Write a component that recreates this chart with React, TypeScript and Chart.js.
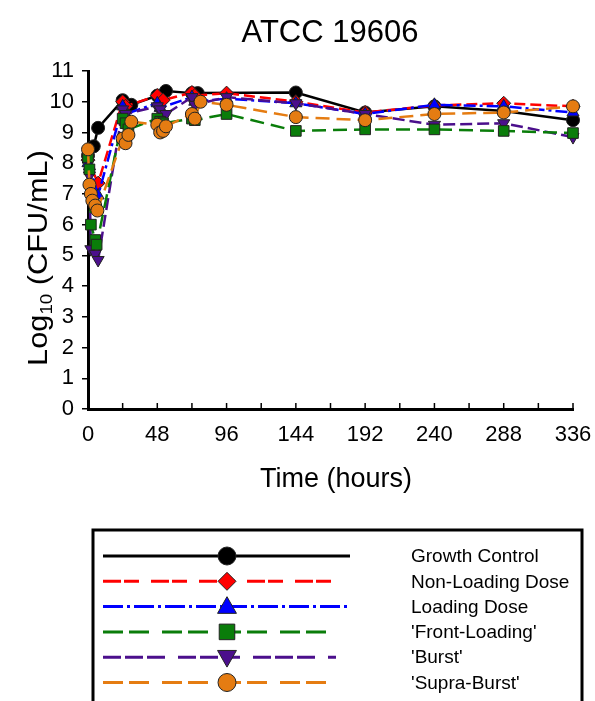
import React, { useEffect, useRef } from "react";
import { Chart, registerables } from "chart.js";
Chart.register(...registerables);

const FONT = "'Liberation Sans', Arial, sans-serif";

const chartTitle = "ATCC 19606";
const xTitle = "Time (hours)";
const seriesNames = ["Growth Control", "Non-Loading Dose", "Loading Dose", "'Front-Loading'", "'Burst'", "'Supra-Burst'"];

const gcTimes = [0, 4, 7, 24, 30, 48, 54, 72, 76, 144, 192, 240, 288, 336];
const gcValues = [8.25, 8.55, 9.15, 10.05, 9.9, 10.2, 10.35, 10.28, 10.28, 10.3, 9.65, 9.85, 9.7, 9.4];

const nldTimes = [0, 7, 24, 26, 48, 52, 72, 74, 96, 144, 192, 240, 288, 336];
const nldValues = [8.1, 7.35, 10.0, 9.85, 10.2, 10.05, 10.3, 10.2, 10.28, 10.0, 9.65, 9.88, 9.95, 9.85];

const ldTimes = [0, 1, 7, 24, 26, 48, 50, 72, 74, 96, 144, 192, 240, 288, 336];
const ldValues = [8.0, 7.9, 6.95, 9.85, 9.6, 9.95, 9.8, 10.15, 10.0, 10.1, 9.95, 9.6, 9.9, 9.85, 9.65];

const flTimes = [0, 1, 2, 5, 6, 24, 26, 28, 48, 50, 52, 72, 74, 96, 144, 192, 240, 288, 336];
const flValues = [8.2, 7.8, 6.0, 5.5, 5.35, 9.45, 9.3, 9.1, 9.45, 9.35, 9.3, 9.45, 9.4, 9.6, 9.05, 9.1, 9.1, 9.05, 8.98];

const burstTimes = [0, 1, 2, 5, 7, 24, 26, 48, 50, 54, 72, 74, 96, 144, 192, 240, 288, 336];
const burstValues = [8.1, 7.6, 5.2, 5.05, 4.85, 9.75, 9.6, 9.85, 9.75, 9.6, 10.15, 9.9, 10.15, 9.95, 9.6, 9.25, 9.3, 8.85];

const supraTimes = [0, 1, 2, 3, 5, 6.5, 24, 26, 28, 30, 48, 50, 52, 54, 72, 74, 78, 96, 144, 192, 240, 288, 336];
const supraValues = [8.45, 7.3, 7.0, 6.78, 6.62, 6.46, 8.8, 8.65, 8.92, 9.35, 9.25, 9.0, 9.05, 9.2, 9.6, 9.45, 10.0, 9.9, 9.5, 9.4, 9.6, 9.65, 9.85];

const xTickStep = 24;
const xLabelStep = 48;

type Style = { color: string; dash: number[]; legendDash: number[]; shape: string; rot: number; radius: number; lineEnd: number };
const styles: Style[] = [
  { color: "#000000", dash: [], legendDash: [], shape: "circle", rot: 0, radius: 6.5, lineEnd: 350 },
  { color: "#ff0000", dash: [11, 5], legendDash: [18, 3, 15, 12], shape: "rectRot", rot: 0, radius: 7, lineEnd: 336 },
  { color: "#0000ff", dash: [12, 4, 3, 4], legendDash: [20, 4, 3, 4], shape: "triangle", rot: 0, radius: 7, lineEnd: 350 },
  { color: "#0a7d0a", dash: [14, 7], legendDash: [20, 6, 20, 13], shape: "rect", rot: 0, radius: 7.5, lineEnd: 336 },
  { color: "#4b0f8c", dash: [12, 5], legendDash: [18, 4, 18, 4, 18, 13], shape: "triangle", rot: 180, radius: 7, lineEnd: 336 },
  { color: "#e57c12", dash: [14, 7], legendDash: [20, 6, 20, 13], shape: "circle", rot: 0, radius: 6.5, lineEnd: 336 },
];

const allTimes = [gcTimes, nldTimes, ldTimes, flTimes, burstTimes, supraTimes];
const allValues = [gcValues, nldValues, ldValues, flValues, burstValues, supraValues];
const drawOrder = [5, 4, 3, 1, 2, 0];

function drawMarker(ctx: CanvasRenderingContext2D, shape: string, rot: number, x: number, y: number, r: number, fill: string) {
  ctx.save();
  ctx.translate(x, y);
  ctx.rotate((rot * Math.PI) / 180);
  ctx.beginPath();
  if (shape === "circle") {
    ctx.arc(0, 0, r, 0, Math.PI * 2);
  } else if (shape === "rectRot") {
    ctx.moveTo(0, -r); ctx.lineTo(r, 0); ctx.lineTo(0, r); ctx.lineTo(-r, 0); ctx.closePath();
  } else if (shape === "rect") {
    const s = r * Math.SQRT1_2;
    ctx.rect(-s, -s, 2 * s, 2 * s);
  } else if (shape === "triangle") {
    ctx.moveTo(0, -r * 1.1);
    ctx.lineTo(r * 1.05, r * 0.75);
    ctx.lineTo(-r * 1.05, r * 0.75);
    ctx.closePath();
  }
  ctx.fillStyle = fill;
  ctx.fill();
  ctx.setLineDash([]);
  ctx.lineWidth = 1;
  ctx.strokeStyle = "#222";
  ctx.stroke();
  ctx.restore();
}

const decorPlugin = {
  id: "decor",
  afterDraw(chart: any) {
    const ctx: CanvasRenderingContext2D = chart.ctx;
    const area = chart.chartArea;
    const xs = chart.scales.x;
    ctx.save();
    ctx.fillStyle = "#000";
    ctx.textAlign = "center";
    ctx.textBaseline = "alphabetic";
    ctx.font = `31px ${FONT}`;
    ctx.fillText(chartTitle, 330, 42);

    // inward x ticks
    ctx.strokeStyle = "#000";
    ctx.lineWidth = 1.5;
    for (let t = 0; t <= 336; t += xTickStep) {
      const px = xs.getPixelForValue(t);
      ctx.beginPath();
      ctx.moveTo(px, area.bottom);
      ctx.lineTo(px, area.bottom - 6);
      ctx.stroke();
    }

    // x title
    ctx.font = `27px ${FONT}`;
    ctx.fillText(xTitle, 336, 487);

    // y title with subscript
    ctx.save();
    ctx.translate(47, 258);
    ctx.rotate(-Math.PI / 2);
    ctx.scale(1.1, 1);
    ctx.textAlign = "left";
    const big = `28px ${FONT}`;
    const small = `17px ${FONT}`;
    ctx.font = big;
    const w1 = ctx.measureText("Log").width;
    const w3 = ctx.measureText(" (CFU/mL)").width;
    ctx.font = small;
    const w2 = ctx.measureText("10").width;
    let x0 = -(w1 + w2 + w3) / 2;
    ctx.font = big;
    ctx.fillText("Log", x0, 0);
    x0 += w1;
    ctx.font = small;
    ctx.fillText("10", x0, 5);
    x0 += w2;
    ctx.font = big;
    ctx.fillText(" (CFU/mL)", x0, 0);
    ctx.restore();

    // legend box
    ctx.lineWidth = 3;
    ctx.strokeStyle = "#000";
    ctx.setLineDash([]);
    ctx.strokeRect(93, 530, 489, 190);
    ctx.font = `19px ${FONT}`;
    ctx.textAlign = "left";
    ctx.textBaseline = "middle";
    for (let i = 0; i < seriesNames.length; i++) {
      const st = styles[i];
      const y = 556 + i * 25.3;
      ctx.beginPath();
      ctx.setLineDash(st.legendDash);
      ctx.lineWidth = 3;
      ctx.strokeStyle = st.color;
      ctx.moveTo(103, y);
      ctx.lineTo(st.lineEnd, y);
      ctx.stroke();
      drawMarker(ctx, st.shape, st.rot, 227, y, st.shape === "rect" ? 11 : 9, st.color);
      ctx.fillStyle = "#000";
      ctx.fillText(seriesNames[i], 411, y + 1);
    }
    ctx.restore();
  },
};

export default function App() {
  const ref = useRef<HTMLCanvasElement>(null);
  useEffect(() => {
    if (!ref.current) return;
    const datasets = seriesNames.map((name, i) => {
      const st = styles[i];
      return {
        label: name,
        data: allTimes[i].map((t, j) => ({ x: t, y: allValues[i][j] })),
        borderColor: st.color,
        backgroundColor: st.color,
        borderWidth: 2.5,
        borderDash: st.dash,
        pointStyle: st.shape,
        pointRotation: st.rot,
        pointRadius: st.radius,
        pointBorderColor: "#222",
        pointBorderWidth: 1,
        pointBackgroundColor: st.color,
        tension: 0,
        clip: false,
        order: drawOrder[i],
      };
    });
    const chart = new Chart(ref.current, {
      type: "line",
      data: { datasets: datasets as any },
      options: {
        animation: false,
        responsive: false,
        devicePixelRatio: 1,
        layout: { autoPadding: false, padding: { top: 71, right: 22, left: 0, bottom: 0 } },
        plugins: { legend: { display: false }, tooltip: { enabled: false }, title: { display: false } },
        scales: {
          x: {
            type: "linear",
            min: 0,
            max: 336,
            ticks: {
              stepSize: xTickStep,
              autoSkip: false,
              maxRotation: 0,
              padding: 13,
              color: "#000",
              font: { family: FONT, size: 22 },
              callback: (v: any) => (Number(v) % xLabelStep === 0 ? String(v) : ""),
            },
            grid: { display: false, drawTicks: false },
            border: { display: true, color: "#000", width: 3 },
            afterFit: (s: any) => { s.height = 292; s.paddingLeft = 0; s.paddingRight = 0; },
          },
          y: {
            min: 0,
            max: 11,
            ticks: { stepSize: 1, padding: 8, color: "#000", font: { family: FONT, size: 22 } },
            grid: { drawOnChartArea: false, drawTicks: true, tickLength: 6, color: "#000", lineWidth: 1.5 },
            border: { display: true, color: "#000", width: 3 },
            afterFit: (s: any) => { s.width = 88; s.paddingTop = 0; s.paddingBottom = 0; },
          },
        },
      },
      plugins: [decorPlugin],
    });
    return () => chart.destroy();
  }, []);
  return (
    <div style={{ position: "absolute", left: 0, top: 0, width: 595, height: 701, background: "#fff", overflow: "hidden" }}>
      <canvas ref={ref} width={595} height={701} />
    </div>
  );
}
